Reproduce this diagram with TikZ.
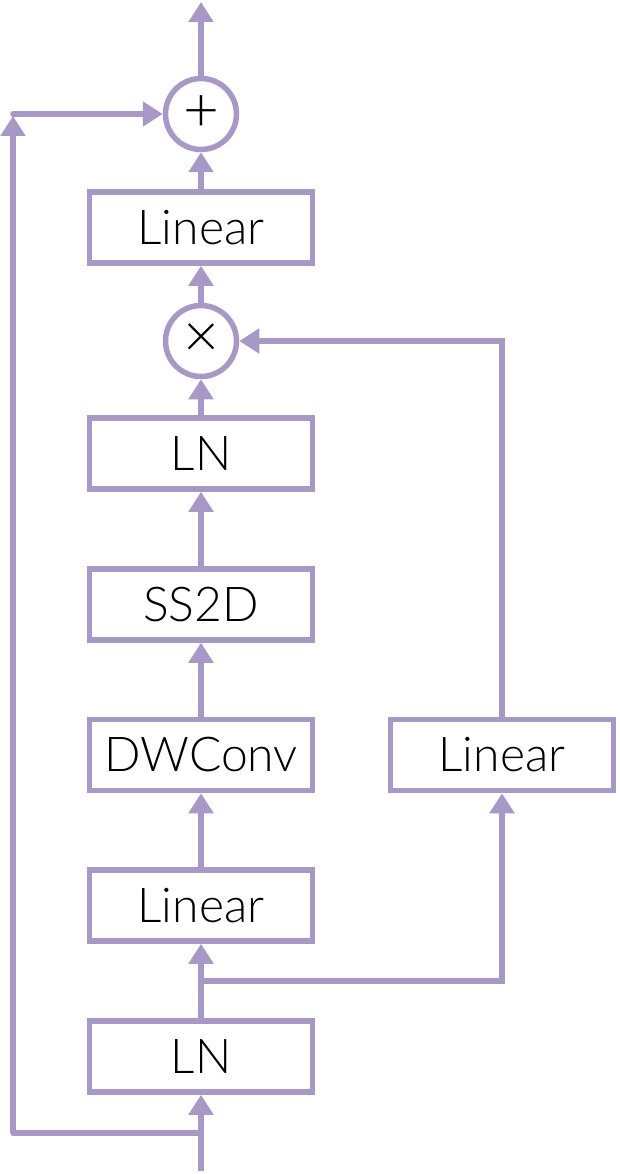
\documentclass[tikz,border=0pt]{standalone}
\usepackage{fontspec}
\setmainfont{Lato}[UprightFont=* Light]
\usetikzlibrary{arrows.meta}
\definecolor{lav}{RGB}{168,152,198}

\begin{document}
\begin{tikzpicture}[x=1pt, y=-1pt,
    box/.style={draw=lav, line width=5.5pt, minimum width=223pt, minimum height=71pt, inner sep=0pt, font=\fontsize{48}{48}\selectfont},
    op/.style={draw=lav, line width=5.5pt, circle, minimum size=71pt, inner sep=0pt, font=\fontsize{62}{62}\selectfont},
    arr/.style={draw=lav, line width=5.5pt, -{Triangle[length=20pt,width=24pt]}},
    link/.style={draw=lav, line width=5.5pt, line cap=round}]
    \useasboundingbox (0,0) rectangle (619,1174);

    % Main column
    \node[box] (ln1) at (201,1056.5) {LN};
    \node[box] (lin1) at (201,905.5) {Linear};
    \node[box] (dwconv) at (201,755) {DWConv};
    \node[box] (ss2d) at (201,604.5) {SS2D};
    \node[box] (ln2) at (201,453.5) {LN};
    \node[op] (mul) at (201,341) {×};
    \node[box] (lin3) at (201,227.5) {Linear};
    \node[op] (add) at (201,114) {+};

    % Gate branch
    \node[box] (gate) at (502,755) {Linear};

    % Helper points
    \coordinate (in) at (201,1171);
    \coordinate (skip) at (201,1133);
    \coordinate (skipbot) at (13,1133);
    \coordinate (skiptop) at (13,116);
    \coordinate (skipin) at (13,114);
    \coordinate (split) at (201,981);
    \coordinate (out) at (201,2);

    % Connections
    \draw[arr] (in) -- (ln1);
    \draw[link] (skip) -- (skipbot);
    \draw[arr] (skipbot) -- (skiptop);
    \draw[arr, line cap=round] (skipin) -- (add);
    \draw[arr] (ln1) -- (lin1);
    \draw[arr] (split) -| (gate.south);
    \draw[arr] (lin1) -- (dwconv);
    \draw[arr] (dwconv) -- (ss2d);
    \draw[arr] (ss2d) -- (ln2);
    \draw[arr] (ln2) -- (mul);
    \draw[arr] (gate.north) |- (mul);
    \draw[arr] (mul) -- (lin3);
    \draw[arr] (lin3) -- (add);
    \draw[arr] (add) -- (out);
\end{tikzpicture}
\end{document}
